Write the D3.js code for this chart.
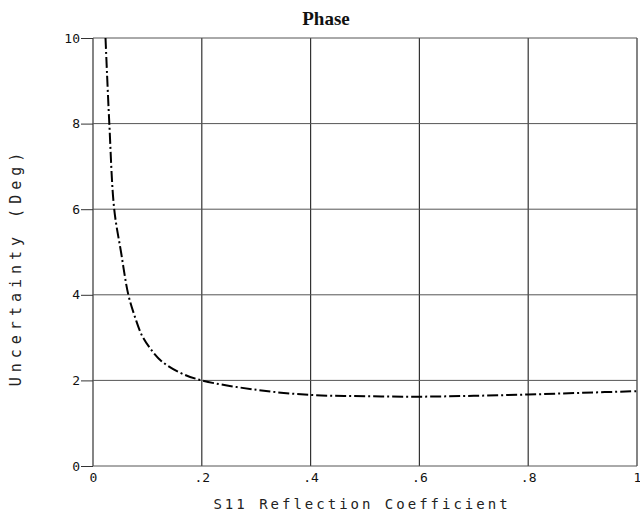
<!DOCTYPE html>
<html><head><meta charset="utf-8">
<script src="https://cdn.jsdelivr.net/npm/d3@7"></script>
<style>body{margin:0;background:#fff}svg{display:block}</style>
</head><body>
<svg id="c" width="640" height="518"></svg>
<script>
const title = "Phase";
const xLabel = "S11 Reflection Coefficient";
const yLabel = "Uncertainty (Deg)";
const xTicks = [0, 0.2, 0.4, 0.6, 0.8, 1];
const xTickLabels = ["0", ".2", ".4", ".6", ".8", "1"];
const yTicks = [0, 2, 4, 6, 8, 10];
const yTickLabels = ["0", "2", "4", "6", "8", "10"];
const reflection = [0.023, 0.03, 0.039, 0.0515, 0.065, 0.078, 0.09, 0.105, 0.126, 0.16, 0.2, 0.3, 0.4, 0.5, 0.6, 0.7, 0.8, 0.9, 1.0];
const uncertainty = [10, 8, 6, 5, 4, 3.45, 3.05, 2.75, 2.45, 2.18, 2.0, 1.78, 1.66, 1.63, 1.62, 1.64, 1.67, 1.71, 1.75];

const svg = d3.select("#c");
const L = 93, R = 637, T = 38, B = 466;
const x = d3.scaleLinear().domain([0, 1]).range([L, R]);
const y = d3.scaleLinear().domain([0, 10]).range([B, T]);
const mono = "'DejaVu Sans Mono', monospace";

// grid
const g = svg.append("g");
g.selectAll(".vg").data(xTicks).join("line")
  .attr("x1", d => x(d)).attr("x2", d => x(d)).attr("y1", T).attr("y2", B)
  .attr("stroke", "#333").attr("stroke-width", 1.2);
g.selectAll(".hg").data(yTicks).join("line")
  .attr("x1", L).attr("x2", R).attr("y1", d => y(d)).attr("y2", d => y(d))
  .attr("stroke", "#555").attr("stroke-width", 1);

// y axis
const ya = svg.append("g").attr("transform", `translate(${L},0)`)
  .call(d3.axisLeft(y).tickValues(yTicks).tickSize(12).tickPadding(1)
    .tickFormat((d, i) => yTickLabels[i]));
ya.select(".domain").remove();
ya.selectAll("line").attr("stroke", "#333");
ya.selectAll("text").attr("font-family", mono).attr("font-size", 13).attr("fill", "#111");

// x axis
const xa = svg.append("g").attr("transform", `translate(0,${B})`)
  .call(d3.axisBottom(x).tickValues(xTicks).tickSize(0).tickPadding(7)
    .tickFormat((d, i) => xTickLabels[i]));
xa.select(".domain").remove();
xa.selectAll("text").attr("font-family", mono).attr("font-size", 13).attr("fill", "#111");

// curve
const line = d3.line().x((d, i) => x(reflection[i])).y(d => y(d)).curve(d3.curveCatmullRom);
svg.append("path").datum(uncertainty).attr("d", line)
  .attr("fill", "none").attr("stroke", "#000").attr("stroke-width", 2)
  .attr("stroke-dasharray", "11,3,2,3");

// title
svg.append("text").attr("x", 326).attr("y", 25).attr("text-anchor", "middle")
  .attr("font-family", "'Liberation Serif', serif").attr("font-size", 19).attr("font-weight", "bold")
  .attr("fill", "#111").text(title);

// x label
svg.append("text").attr("x", 362).attr("y", 509).attr("text-anchor", "middle")
  .attr("font-family", mono).attr("font-size", 14).attr("letter-spacing", 3)
  .attr("fill", "#222").text(xLabel);

// y label
svg.append("text").attr("transform", "translate(21,267) rotate(-90)").attr("text-anchor", "middle")
  .attr("font-family", mono).attr("font-size", 15).attr("letter-spacing", 5)
  .attr("fill", "#222").text(yLabel);
</script>
</body></html>
